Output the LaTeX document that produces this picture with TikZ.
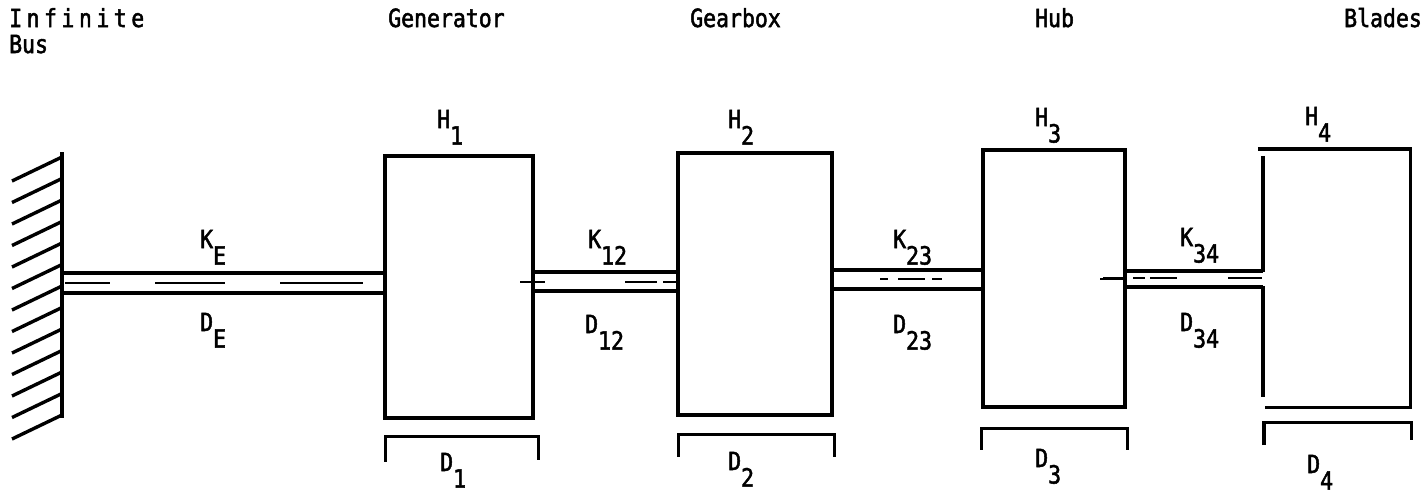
\documentclass[tikz,border=0pt]{standalone}
\usepackage{fontspec}
\setmainfont{DejaVu Sans Mono}[FakeStretch=0.86, FakeBold=2]
\usetikzlibrary{positioning}
\newcommand{\symSub}[2]{#1\raisebox{-0.66em}{#2}}
\newcommand{\lineW}{3.4pt}

\begin{document}
\begin{tikzpicture}[x=1pt, y=-1pt,
	mass/.style={draw, rectangle, line width=\lineW, inner sep=0pt},
	bar/.style={line width=\lineW},
	damper/.style={line width=2.8pt},
	lbl/.style={font=\fontsize{25}{28}\selectfont, inner sep=0pt, anchor=base west}]
	\useasboundingbox (0,0) rectangle (1422,493);
	% titles
	\node[lbl] (titleBus) at (9,27) {\addfontfeature{LetterSpace=18}Infinite};
	\node[lbl] at (9,53) {Bus};
	\node[lbl] (titleGen) at (388,27) {Generator};
	\node[lbl] (titleGear) at (690,27) {Gearbox};
	\node[lbl] (titleHub) at (1035,27) {Hub};
	\node[lbl] (titleBlades) at (1344,27) {Blades};
	% wall
	\coordinate (wallTop) at (62,152);
	\coordinate (wallBot) at (62,418);
	\draw[bar] (wallTop) -- (wallBot);
	\foreach \i in {0,...,12}
		\draw[bar] (62,157+21.5*\i) -- ++(-50,24);
	% masses
	\node[mass, minimum width=148pt, minimum height=262pt] (gen) at (459,287) {};
	\node[mass, minimum width=154pt, minimum height=262pt] (gear) at (755,284) {};
	\node[mass, minimum width=142pt, minimum height=257pt] (hub) at (1054,278.5) {};
	\node[rectangle, inner sep=0pt, minimum width=147pt, minimum height=258pt] (blades) at (1336.5,278) {};
	\draw[bar] ([xshift=-5pt]blades.north west) -- (blades.north east) -- (blades.south east) -- ([xshift=2pt]blades.south west);
	\draw[bar] ([yshift=-7pt]blades.north west) -- (blades.west |- 0,272);
	\draw[bar] (blades.west |- 0,286) -- ([yshift=10pt]blades.south west);
	% shafts
	\draw[bar] (wallTop |- 0,273) -- (gen.west |- 0,273);
	\draw[bar] (wallTop |- 0,293) -- (gen.west |- 0,293);
	\draw[damper] (65,283) -- (110,283) (155,283) -- (225,283) (280,283) -- (363,283);
	\draw[bar] (gen.east |- 0,272) -- (gear.west |- 0,272);
	\draw[bar] (gen.east |- 0,291) -- (gear.west |- 0,291);
	\draw[damper] (520,282) -- (545,282) (625,282) -- (657,282) (663,282) -- (677,282);
	\draw[bar] (gear.east |- 0,270) -- (hub.west |- 0,270);
	\draw[bar] (gear.east |- 0,289) -- (hub.west |- 0,289);
	\draw[damper] (880,279) -- (888,279) (898,279) -- (925,279) (932,279) -- (942,279) (1100,279) -- (1124,279);
	\draw[bar] (hub.east |- 0,271) -- (blades.west |- 0,271);
	\draw[bar] (hub.east |- 0,287) -- (blades.west |- 0,287);
	\draw[damper] (1103,278) -- (1125,278) (1133,278) -- (1145,278) (1150,278) -- (1177,278) (1228,278) -- (1262,278);
	% dampers to ground
	\draw[bar] ([shift={(2pt,-42pt)}]gen.south west) -- ++(0,-25) -| ([shift={(4pt,-40pt)}]gen.south east);
	\draw[bar] ([shift={(2pt,-40pt)}]gear.south west) -- ++(0,-22) -| ([shift={(1pt,-40pt)}]gear.south east);
	\draw[bar] ([shift={(0pt,-41pt)}]hub.south west) -- ++(0,-21) -| ([shift={(1pt,-41pt)}]hub.south east);
	\draw[bar] ([shift={(1pt,-38pt)}]blades.south west) -- ++(0,-23) -| ([shift={(1pt,-33pt)}]blades.south east);
	% labels
	\node[lbl] (lblH1) at (437,128) {\symSub{H}{1}};
	\node[lbl] (lblH2) at (728,128) {\symSub{H}{2}};
	\node[lbl] (lblH3) at (1035,126) {\symSub{H}{3}};
	\node[lbl] (lblH4) at (1305,125) {\symSub{H}{4}};
	\node[lbl] (lblKE) at (200,248) {\symSub{K}{E}};
	\node[lbl] (lblDE) at (200,331) {\symSub{D}{E}};
	\node[lbl] (lblK12) at (588,248) {\symSub{K}{12}};
	\node[lbl] (lblD12) at (585,333) {\symSub{D}{12}};
	\node[lbl] (lblK23) at (893,248) {\symSub{K}{23}};
	\node[lbl] (lblD23) at (893,333) {\symSub{D}{23}};
	\node[lbl] (lblK34) at (1180,246) {\symSub{K}{34}};
	\node[lbl] (lblD34) at (1180,331) {\symSub{D}{34}};
	\node[lbl] (lblD1) at (440,471) {\symSub{D}{1}};
	\node[lbl] (lblD2) at (728,470) {\symSub{D}{2}};
	\node[lbl] (lblD3) at (1035,467) {\symSub{D}{3}};
	\node[lbl] (lblD4) at (1307,473) {\symSub{D}{4}};
\end{tikzpicture}
\end{document}
